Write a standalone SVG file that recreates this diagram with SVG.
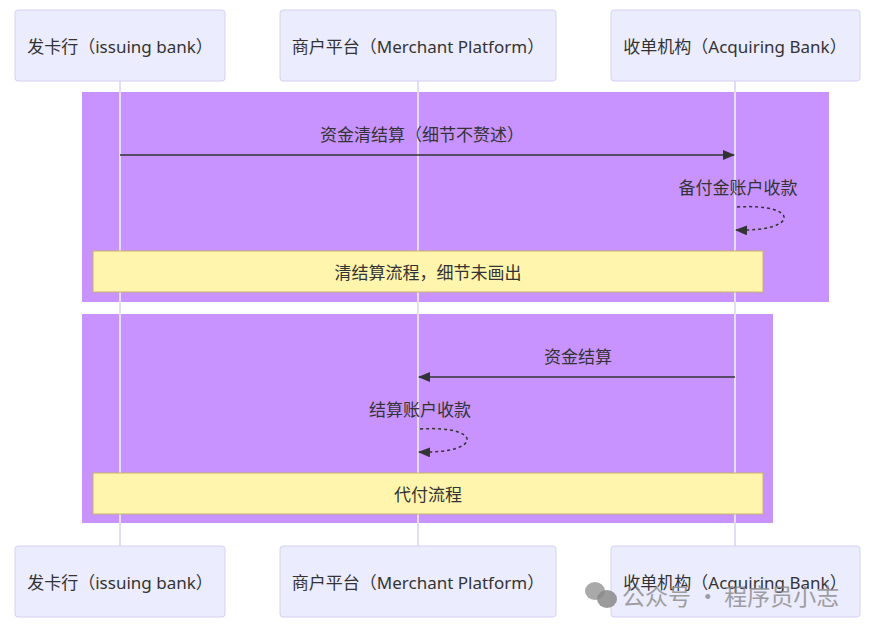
<svg xmlns="http://www.w3.org/2000/svg" width="874" height="629" viewBox="0 0 874 629">
<defs>
<style>
text{font-family:"Noto Sans","Noto Sans CJK SC",sans-serif;font-size:17px;fill:#333;text-anchor:middle;dominant-baseline:central}
.actor{fill:#ececff;stroke:#d4d2ee;stroke-width:1}
.life{stroke:#e2defa;stroke-width:2}
.grp{fill:#c893fe}
.note{fill:#fff5ad;stroke:#c9b36a;stroke-width:1}
.msg{stroke:#333;stroke-width:1.5;fill:none}
.dash{stroke:#333;stroke-width:1.5;fill:none;stroke-dasharray:3,3}
.wm{fill:#8a8a8a;font-size:23px;text-anchor:start;opacity:0.8;font-family:"Noto Sans CJK SC",sans-serif}
</style>
<marker id="arr" viewBox="0 0 12 10" refX="11" refY="5" markerWidth="12" markerHeight="10" markerUnits="userSpaceOnUse" orient="auto">
<path d="M0,0 L12,5 L0,10 z" fill="#333"/>
</marker>
</defs>
<rect width="874" height="629" fill="#fff"/>
<g id="groups">
<rect class="grp" x="82" y="92" width="747" height="210"/>
<rect class="grp" x="82" y="314" width="691" height="209"/>
</g>
<g id="lifelines">
<line class="life" x1="120" y1="81" x2="120" y2="546"/>
<line class="life" x1="418" y1="81" x2="418" y2="546"/>
<line class="life" x1="735" y1="81" x2="735" y2="546"/>
</g>
<g id="issuer-top"><rect class="actor" x="15" y="10" width="210" height="71" rx="3"/><text x="120" y="46">发卡行（issuing bank）</text></g>
<g id="merchant-top"><rect class="actor" x="280" y="10" width="276" height="71" rx="3"/><text x="418" y="46">商户平台（Merchant Platform）</text></g>
<g id="acquirer-top"><rect class="actor" x="611" y="10" width="249" height="71" rx="3"/><text x="735" y="46">收单机构（Acquiring Bank）</text></g>
<g id="note1"><rect class="note" x="93" y="251" width="670" height="41"/><text x="428" y="272">清结算流程，细节未画出</text></g>
<g id="note2"><rect class="note" x="93" y="473" width="670" height="41"/><text x="428" y="494">代付流程</text></g>
<g id="connectors">
<line class="msg" x1="120" y1="155" x2="734" y2="155" marker-end="url(#arr)"/>
<text x="422" y="134">资金清结算（细节不赘述）</text>
<path class="dash" d="M737,207 C800,203 800,232 736,230" marker-end="url(#arr)"/>
<text x="738" y="187">备付金账户收款</text>
<line class="msg" x1="735" y1="377" x2="419" y2="377" marker-end="url(#arr)"/>
<text x="578" y="356">资金结算</text>
<path class="dash" d="M420,429 C483,425 483,454 419,452" marker-end="url(#arr)"/>
<text x="420" y="409">结算账户收款</text>
</g>
<g id="issuer-bottom"><rect class="actor" x="15" y="546" width="210" height="71" rx="3"/><text x="120" y="582">发卡行（issuing bank）</text></g>
<g id="merchant-bottom"><rect class="actor" x="280" y="546" width="276" height="71" rx="3"/><text x="418" y="582">商户平台（Merchant Platform）</text></g>
<g id="acquirer-bottom"><rect class="actor" x="611" y="546" width="249" height="71" rx="3"/><text x="735" y="582">收单机构（Acquiring Bank）</text></g>
<g id="watermark">
<ellipse cx="595" cy="591" rx="10" ry="9" fill="#9a9a9a" opacity="0.85"/>
<ellipse cx="607" cy="599" rx="10" ry="9" fill="#8a8a8a" opacity="0.85"/>
<text class="wm" x="622" y="595">公众号 · 程序员小志</text>
</g>
</svg>
